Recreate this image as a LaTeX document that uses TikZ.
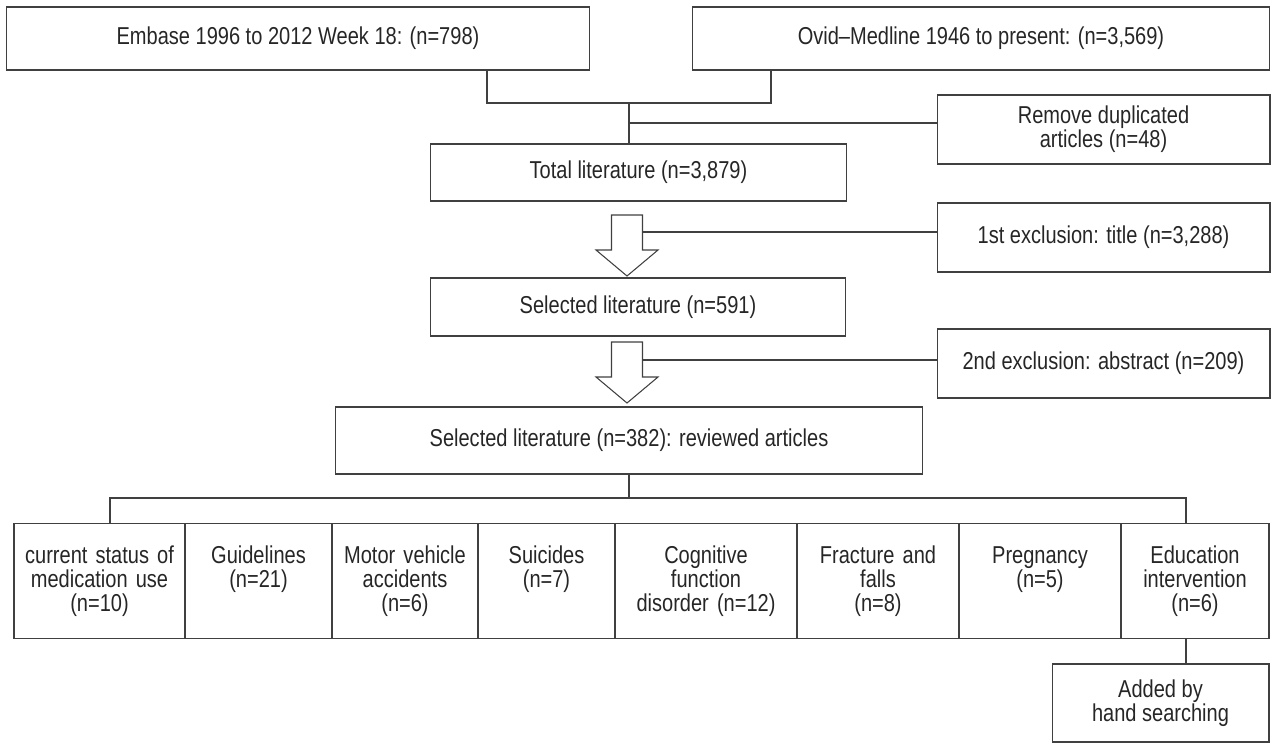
\documentclass[tikz,border=0pt]{standalone}
\usepackage{fontspec}
\setmainfont{Liberation Sans}[FakeStretch=0.82]

\tikzset{
  box/.style={draw=black!75, line width=0.6pt, align=center, inner sep=0pt,
    text=black!85, font=\fontsize{13.9}{13.7}\selectfont},
  wide/.style={box, minimum height=1.26cm},
  side/.style={box, minimum width=6.66cm, minimum height=1.38cm},
  catbox/.style={box, anchor=north, text height=0.8cm, text depth=1.5cm},
  link/.style={draw=black!75, line width=0.6pt},
  hollow/.style={draw=black!75, line width=0.6pt, fill=white, line join=miter}
}

\begin{document}
\begin{tikzpicture}[x=0.02cm, y=-0.02cm]
\useasboundingbox (0,0) rectangle (1274,744);

% sources
\node[wide, minimum width=11.68cm] (embase) at (298,38.5) {Embase 1996 to 2012 Week 18: (n=798)};
\node[wide, minimum width=11.56cm] (ovid) at (981,38.5) {Ovid--Medline 1946 to present: (n=3,569)};

% main column
\node[box, minimum width=8.34cm, minimum height=1.14cm] (total) at (638.5,172.5) {Total literature (n=3,879)};
\node[box, minimum width=8.32cm, minimum height=1.16cm] (sel1) at (638,307) {Selected literature (n=591)};
\node[box, minimum width=11.76cm, minimum height=1.34cm] (sel2) at (629,440.5) {Selected literature (n=382): reviewed articles};

% exclusions
\node[side] (remove) at (1103.5,129.5) {Remove duplicated\\articles (n=48)};
\node[side] (excl1) at (1103.5,237.5) {1st exclusion: title (n=3,288)};
\node[side] (excl2) at (1103.5,363.5) {2nd exclusion: abstract (n=209)};

% categories
\node[catbox, text width=3.42cm] (c1) at (99.5,523) {current status of\\medication use\\(n=10)};
\node[catbox, text width=2.94cm] (c2) at (258.5,523) {Guidelines\\(n=21)};
\node[catbox, text width=2.92cm] (c3) at (405,523) {Motor vehicle\\accidents\\(n=6)};
\node[catbox, text width=2.74cm] (c4) at (546.5,523) {Suicides\\(n=7)};
\node[catbox, text width=3.64cm] (c5) at (706,523) {Cognitive\\function\\disorder (n=12)};
\node[catbox, text width=3.24cm] (c6) at (878,523) {Fracture and\\falls\\(n=8)};
\node[catbox, text width=3.24cm] (c7) at (1040,523) {Pregnancy\\(n=5)};
\node[catbox, text width=2.96cm] (c8) at (1195,523) {Education\\intervention\\(n=6)};

\node[box, minimum width=4.34cm, minimum height=1.56cm] (added) at (1160.5,703) {Added by\\hand searching};

% joins
\coordinate (jl) at (487,103);
\coordinate (jr) at (771,103);
\coordinate (jm) at (629,103);
\coordinate (jd) at (629,123);
\draw[link] (jl |- embase.south) -- (jl) -- (jr) -- (jr |- ovid.south);
\draw[link] (jm) -- (jm |- total.north);
\draw[link] (jd) -- (jd -| remove.west);

% block arrows
\coordinate (a1) at (627,215);
\coordinate (a2) at (627,342);
\foreach \p in {a1,a2}
  \draw[hollow] (\p) ++(-15.5,0) -- ++(0,35) -- ++(-15.5,0) -- ++(31,26)
    -- ++(31,-26) -- ++(-15.5,0) -- ++(0,-35) -- cycle;
\coordinate (t1) at (642.5,232);
\coordinate (t2) at (642.5,360);
\draw[link] (t1) -- (t1 -| excl1.west);
\draw[link] (t2) -- (t2 -| excl2.west);

% bus to categories
\coordinate (bus) at (629,498);
\coordinate (bl) at (110,498);
\coordinate (br) at (1186,498);
\draw[link] (sel2.south -| bus) -- (bus);
\draw[link] (bl |- c1.north) -- (bl) -- (br) -- (br |- c8.north);
\draw[link] (br |- c8.south) -- (br |- added.north);
\end{tikzpicture}
\end{document}
